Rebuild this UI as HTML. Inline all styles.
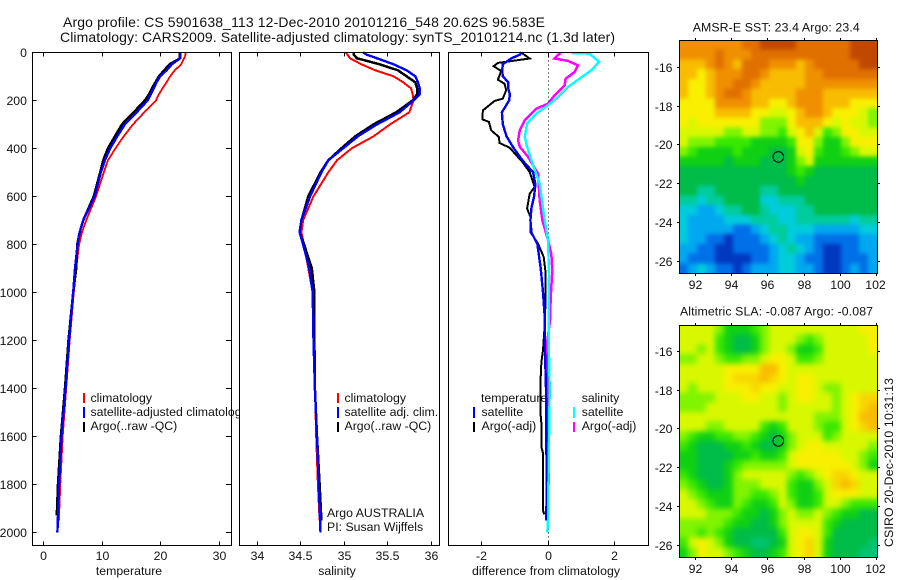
<!DOCTYPE html>
<html lang="en">
<head>
<meta charset="utf-8">
<title>Argo profile 5901638_113</title>
<style>
html,body{margin:0;padding:0;background:#fff;}
svg{display:block;font-family:"Liberation Sans",Arial,sans-serif;fill:#000;}
text{font-size:12.3px;fill:#111;}
.title{font-size:14px;}
.frame{fill:none;stroke:#000;stroke-width:1;shape-rendering:crispEdges;}
.tick{stroke:#000;stroke-width:1;shape-rendering:crispEdges;}
.mid{text-anchor:middle;}
.end{text-anchor:end;}
.line{fill:none;stroke-linejoin:miter;shape-rendering:crispEdges;}
.bar{shape-rendering:crispEdges;}
</style>
</head>
<body>
<svg id="figure" width="900" height="580" viewBox="0 0 900 580" xmlns="http://www.w3.org/2000/svg">
  <defs>
    <filter id="soft-sst" filterUnits="userSpaceOnUse" x="679" y="40" width="198" height="233" color-interpolation-filters="sRGB">
      <feGaussianBlur stdDeviation="2.2"/>
      <feComponentTransfer><feFuncA type="linear" slope="100"/></feComponentTransfer>
    </filter>
    <filter id="soft-sla" filterUnits="userSpaceOnUse" x="679" y="325" width="198" height="232" color-interpolation-filters="sRGB">
      <feGaussianBlur stdDeviation="3"/>
      <feComponentTransfer><feFuncA type="linear" slope="100"/></feComponentTransfer>
    </filter>
  </defs>
  <rect x="0" y="0" width="900" height="580" fill="#fff"/>
  <text class="title" x="63" y="27" textLength="482" lengthAdjust="spacing">Argo profile: CS 5901638_113 12-Dec-2010 20101216_548 20.62S 96.583E</text>
  <text class="title" x="60" y="42" textLength="555" lengthAdjust="spacing">Climatology: CARS2009. Satellite-adjusted climatology: synTS_20101214.nc (1.3d later)</text>

  <g id="panel-t">
    <text class="mid" x="129" y="575">temperature</text>
    <rect class="bar" x="83" y="393" width="2" height="10" fill="#f00"/>
    <rect class="bar" x="83" y="407" width="2" height="11" fill="#00f"/>
    <rect class="bar" x="83" y="422" width="2" height="10" fill="#000"/>
    <text x="90.5" y="402">climatology</text>
    <text x="90.5" y="416">satellite-adjusted climatology</text>
    <text x="90.5" y="430">Argo(..raw -QC)</text>
  </g>
  <g id="panel-s">
    <rect x="240" y="48" width="208" height="500" fill="#fff"/>
    <text class="mid" x="337" y="575">salinity</text>
    <rect class="bar" x="337" y="393" width="2" height="10" fill="#f00"/>
    <rect class="bar" x="337" y="407" width="2" height="11" fill="#00f"/>
    <rect class="bar" x="337" y="422" width="2" height="10" fill="#000"/>
    <text x="344.5" y="402">climatology</text>
    <text x="344.5" y="416">satellite adj. clim.</text>
    <text x="344.5" y="430">Argo(..raw -QC)</text>
    <text x="327" y="517">Argo AUSTRALIA</text>
    <text x="327" y="531">PI: Susan Wijffels</text>
  </g>
  <g id="panel-d">
    <rect x="441" y="48" width="209" height="500" fill="#fff"/>
    <text x="472" y="575" textLength="148" lengthAdjust="spacing">difference from climatology</text>
    <text x="481" y="402">temperature</text>
    <rect class="bar" x="473" y="407" width="2" height="11" fill="#00f"/>
    <rect class="bar" x="473" y="422" width="2" height="10" fill="#000"/>
    <text x="481.5" y="416">satellite</text>
    <text x="481.5" y="430">Argo(-adj)</text>
    <text x="581.7" y="402">salinity</text>
    <rect class="bar" x="573" y="407" width="2" height="11" fill="#0ff"/>
    <rect class="bar" x="573" y="422" width="2" height="10" fill="#f0f"/>
    <text x="581.7" y="416">satellite</text>
    <text x="581.7" y="430">Argo(-adj)</text>
  </g>
  <g id="map-sst">
    <text x="692.7" y="31.5" textLength="167" lengthAdjust="spacing">AMSR-E SST: 23.4  Argo: 23.4</text>
  </g>
  <g id="map-sla">
    <text x="680" y="315.5" textLength="193" lengthAdjust="spacing">Altimetric SLA: -0.087  Argo: -0.087</text>
  </g>
  <text transform="translate(893 547) rotate(-90)" textLength="169" lengthAdjust="spacing">CSIRO 20-Dec-2010 10:31:13</text>
</svg>
<script>
// ---- Depth levels for profiles (dbar) ----
const profileDepths = [0,10,25,50,75,100,125,150,175,200,250,300,350,400,450,500,600,700,750,800,900,1000,1200,1400,1600,1800];
const climEndDepth = [1950];
const satEndDepth = [2000];
const argoEndDepth = [1930];

// ---- Temperature profiles ----
const tempClim = [24.25,24.2,24,23.5,22.4,21.6,21,20.3,19.7,19.2,17.2,15.3,13.7,12.3,11,10.3,9,7.3,6.6,6.1,5.6,5.2,4.5,3.9,3.3,2.9,2.65];
const tempSat = [23.3,23.3,23.3,21.9,21,19.9,19.3,18.8,18.3,17.8,15.9,13.9,12.6,11.4,10.5,9.8,8.75,6.8,6.2,5.85,5.4,5.1,4.4,3.8,3.1,2.7,2.4];
const tempArgo = [23.2,23.2,23.3,21.5,20.6,19.7,19.1,18.5,18,17.3,15.4,13.4,12.2,11,10.2,9.7,8.6,6.8,6.2,5.8,5.6,5.1,4.3,3.7,3,2.5,2.3];

// ---- Salinity profiles ----
const salClim = [35.02,35.04,35.07,35.2,35.36,35.57,35.68,35.77,35.79,35.8,35.75,35.53,35.34,35.09,34.92,34.82,34.65,34.53,34.51,34.54,34.59,34.64,34.655,34.665,34.68,34.7,34.72];
const salSat = [35.22,35.26,35.38,35.57,35.72,35.82,35.85,35.87,35.87,35.8,35.64,35.38,35.16,34.99,34.82,34.74,34.61,34.51,34.49,34.53,34.6,34.64,34.65,34.665,34.69,34.71,34.73];
const salArgo = [35.11,35.11,35.15,35.41,35.62,35.72,35.82,35.84,35.84,35.79,35.6,35.34,35.13,34.97,34.82,34.73,34.59,34.51,34.49,34.54,34.63,34.66,34.66,34.665,34.69,34.72,34.74];

// ---- Difference profiles ----
const dTempSatDepths = [0,10,25,50,75,100,125,150,175,200,250,300,350,400,450,500,550,600,650,700,750,800,900,1000,1100,1250,1400,1600,1800,1950];
const dTempSat = [-0.79,-0.85,-1.1,-1.36,-1.38,-1.36,-1.2,-1.2,-1.15,-1.17,-1.39,-1.36,-1.25,-1.03,-0.77,-0.45,-0.38,-0.42,-0.5,-0.53,-0.5,-0.32,-0.22,-0.15,-0.1,-0.09,-0.06,-0.05,-0.04,-0.05];
const dTempArgoDepths = [3,26,44,58,78,114,131,158,193,203,242,279,290,325,353,378,397,457,499,561,589,651,686,749,797,853,922,1019,1135,1242,1290,1380,1500,1560,1650,1670,1910,1925];
const dTempArgo = [-0.79,-0.55,-1.51,-1.64,-1.41,-1.51,-1.31,-1.26,-1.36,-1.61,-1.96,-1.98,-1.78,-1.71,-1.48,-1.46,-1.16,-0.77,-0.55,-0.4,-0.55,-0.63,-0.53,-0.53,-0.3,-0.13,-0.07,-0.07,-0.1,-0.15,-0.2,-0.23,-0.23,-0.19,-0.19,-0.15,-0.15,-0.11];
const dSalSatDepths = [3,6,40,75,110,144,193,221,255,297,353,394,471,547,672,783,922,1019,1200,1400,1700,1950,2000];
const dSalSat = [0.7,1.25,1.54,1.3,0.95,0.6,0.25,0,-0.35,-0.63,-0.7,-0.63,-0.45,-0.25,-0.13,0,0.03,0.02,0.02,0.05,0.02,0,-0.02];
const dSalArgoDepths = [3,26,36,54,82,110,138,179,214,235,283,325,367,394,436,506,617,700,783,839,908,1019,1117,1214,1500,1742,1800];
const dSalArgo = [0.37,0.2,0.6,0.9,0.8,0.53,0.5,0.2,0,-0.35,-0.7,-0.85,-0.9,-0.85,-0.6,-0.3,-0.25,-0.17,0,0.1,0.13,0.08,0.06,-0.03,-0.03,0.02,0.02];

// ---- Tick labels ----
const depthTicks = [0,200,400,600,800,1000,1200,1400,1600,1800,2000];
const tempTicks = [0,10,20,30];
const salTicks = [34,34.5,35,35.5,36];
const diffTicks = [-2,0,2];
const lonTicks = [92,94,96,98,100,102];
const latTicks = [-16,-18,-20,-22,-24,-26];
const floatLon = [96.583];
const floatLat = [-20.62];

// ---- Map fields (colour-scale levels, 0=coldest/lowest, 14=warmest/highest), 22 columns, N to S ----
const sstRows = [
[12,12,12,12,12,12,12,13,13,14,14,14,14,13,13,13,13,13,13,14,14,14],
[12,12,12,12,13,12,12,12,13,13,13,13,13,13,13,13,13,13,13,14,14,14],
[11,11,11,12,13,12,11,13,13,13,12,12,12,11,12,13,13,13,13,13,14,14],
[11,11,10,11,12,12,12,13,13,12,11,11,11,11,12,12,13,13,13,13,13,13],
[11,10,10,11,12,12,13,13,12,11,11,11,11,11,12,12,12,12,12,12,12,12],
[11,10,10,11,12,13,13,12,11,11,11,11,11,12,12,12,11,11,11,11,11,11],
[10,10,10,10,12,12,12,12,11,11,10,10,11,12,12,12,11,11,11,10,10,10],
[10,10,10,10,11,11,11,11,10,10,9,9,10,11,12,12,11,10,10,10,9,8],
[10,9,10,10,10,10,10,10,10,8,8,8,10,11,11,11,10,9,10,9,9,8],
[9,9,9,9,9,8,8,9,9,8,8,7,9,10,11,9,7,8,10,10,9,9],
[9,8,8,8,7,7,7,7,6,6,6,6,7,10,10,8,6,6,8,10,10,10],
[8,7,6,6,6,6,7,6,6,6,5,5,6,9,10,7,6,6,7,8,9,9],
[6,6,6,6,6,5,6,6,6,5,5,5,6,8,9,6,6,6,6,6,6,6],
[5,5,5,5,5,5,5,5,5,5,5,5,6,7,6,5,5,5,5,5,5,5],
[5,5,5,5,5,5,5,5,5,5,5,5,5,6,5,5,5,5,5,5,5,5],
[5,5,4,4,5,5,5,5,5,4,4,5,5,5,5,5,5,5,5,5,5,5],
[4,4,3,4,4,5,5,5,5,3,3,4,4,4,5,5,5,5,5,5,5,5],
[3,3,2,2,3,4,4,5,5,4,3,3,3,4,4,5,5,5,5,5,5,5],
[3,2,2,2,2,3,3,3,4,4,4,3,3,4,4,4,4,4,4,3,4,4],
[3,2,2,2,2,2,1,1,2,3,4,4,3,3,3,2,2,2,2,2,3,3],
[3,2,2,1,1,0,1,1,1,2,3,4,3,2,2,1,1,1,1,1,2,2],
[2,2,1,1,0,0,1,1,1,1,2,3,4,3,2,1,0,0,1,1,2,2],
[2,1,1,1,0,0,0,0,1,1,2,3,3,2,1,1,0,0,1,1,1,2],
[1,2,3,2,1,1,0,1,2,2,2,3,3,2,2,1,0,0,1,2,1,2]
];
const slaRows = [
[9,9,9,9,8,6,6,6,7,8,9,9,9,9,9,9,9,9,9,9,10,10],
[9,9,9,9,7,6,5,5,6,8,9,9,9,8,7,8,9,9,9,9,9,10],
[9,9,8,9,7,6,5,5,6,8,9,9,8,6,6,7,9,9,9,9,9,10],
[8,8,9,9,8,7,7,8,8,9,10,10,9,7,7,8,9,9,9,9,9,9],
[9,9,9,9,9,10,10,10,10,11,11,10,9,9,9,9,9,9,9,9,9,9],
[9,9,9,9,9,10,10.5,10.5,10.5,11,10.5,10,9,10,10,9,9,9,9,9,9,9],
[9,8,9,9,9,10,10,10,10.5,10,10,9,9,10,10,9,8,8,9,9,9,9],
[8,8,8,8,9,9,9,10,10,9,9,8,9,10,10,9,9,8,9,10,10.5,10.5],
[8,8,8,9,9,9,9,9,9,9,9,8,9,9,9,9,9,8,9,10,10.5,11],
[9,9,9,9,9,9,9,9,9,9,9,9,9,9,9,8,8,8,9,10,11,11],
[9,9,9,8,8,9,9,9,9,7,6,7,9,9,9,8,7,7,9,10,10.5,11],
[8,7,6,6,7,7,8,8,7,6,5,6,8,9,9,9,7,8,9,9,9,9],
[7,6,5,5,5,6,6,7,6,5,5,6,8,9,10,10,9,9,9,9,9,8],
[6,6,5,5,5,5,6,6,7,6,6,7,9,10,10,10,10,10,9,9,8,7],
[6,6,5,5,5,6,7,8,8,8,8,8,9,10,10,10,10,10,10,9,8,6],
[7,6,5,5,5,6,8,9,9,9,9,9,8,7,8,9,10,10.5,10.5,10,9,9],
[8,7,6,5,5,6,8,8,8,9,9,9,7,6,6,8,9,10.5,11,10.5,9,9],
[9,8,7,6,6,6,8,8,7,7,8,9,7,6,6,7,9,10,10,10,9,9],
[9,9,8,7,6,6,8,7,6,6,7,9,8,6,6,7,9,9,8,7,7,7],
[9,9,9,8,8,8,7,6,6,5,6,8,9,8,8,9,8,7,6,6,5,5],
[8,8,8,8,8,7,6,6,5,5,6,8,9,9,9,9,7,6,5,5,5,5],
[8,8,7,8,7,6,5,5,5,5,5,7,9,10,10,9,7,5,5,5,5,5],
[7,9,10,9,8,6,5,5,4.5,4.5,5,6,9,10,10.5,9,6,5,5,5,5,4.5],
[6,8,10,9,9,8,7,6,5,5,6,7,9,10,10.5,9,6,5,5,5,4.5,4.5]
];

const levelColors = ['#0038c0','#0070e8','#00a8f0','#00ccdc','#00cc9c','#00bc48','#10d014','#38e800','#80f400','#d8f800','#f8f000','#f8bc00','#f09000','#e07000','#c04800'];

// ---- Axis functions ----
const NS = 'http://www.w3.org/2000/svg';
function yDepth(d){ return 52.3 + 0.24 * d; }
function xTemp(v){ return 43.3 + 5.87 * v; }
function xSal(v){ return 257 + 87 * (v - 34); }
function xDiff(v){ return 548 + 33.2 * v; }
function xLon(v){ return 695 + 18.17 * (v - 92); }
function yLatTop(v){ return 67.3 + 19.4 * (-16 - v); }
function yLatBottom(v){ return 351.3 + 19.4 * (-16 - v); }

function el(tag, attrs, parent){
  const e = document.createElementNS(NS, tag);
  for (const k in attrs) e.setAttribute(k, attrs[k]);
  parent.appendChild(e);
  return e;
}
function snap(v){ return Math.floor(v) + 0.5; }
function tickLine(parent, x1, y1, x2, y2){
  const t = el('line', {x1:x1, y1:y1, x2:x2, y2:y2, class:'tick'}, parent);
  
  
  return t;
}
function tickText(parent, x, y, label, cls){
  const t = el('text', {x:x, y:y, class:cls}, parent);
  t.textContent = label;
  
  
  return t;
}
function profile(parent, xs, depths, xf, color, width, name){
  const pts = depths.map((d, i) => xf(xs[i]).toFixed(1) + ',' + yDepth(d).toFixed(1)).join(' ');
  const p = el('polyline', {points:pts, class:'line', stroke:color, 'stroke-width':width}, parent);
  
  
  return p;
}
function frame(parent, x, y, w, h, name){
  const r = el('rect', {x:x, y:y, width:w, height:h, class:'frame'}, parent);
  
  
}

const panelT = document.getElementById('panel-t');
const panelS = document.getElementById('panel-s');
const panelD = document.getElementById('panel-d');
const top0 = 52.5, bot0 = 545.5;

// Temperature panel
const climD = profileDepths.concat(climEndDepth);
const satD = profileDepths.concat(satEndDepth);
const argoD = profileDepths.concat(argoEndDepth);
profile(panelT, tempClim, climD, xTemp, '#f00', 1.8, 'temperature-climatology-line');
profile(panelT, tempArgo, argoD, xTemp, '#000', 2.5, 'temperature-argo-line');
profile(panelT, tempSat, satD, xTemp, '#00f', 2.4, 'temperature-satellite-line');
frame(panelT, 32.5, top0, 199, bot0 - top0, 'temperature-plot-frame');
tempTicks.forEach(v => {
  const x = snap(xTemp(v));
  tickLine(panelT, x, top0, x, top0 + 4);
  tickLine(panelT, x, bot0, x, bot0 - 4);
  tickText(panelT, x, 560, String(v), 'mid');
});
depthTicks.forEach(v => {
  const y = snap(yDepth(v));
  tickLine(panelT, 32.5, y, 36.5, y);
  tickLine(panelT, 231.5, y, 226, y);
  tickText(panelT, 27, y + 4.5, String(v), 'end');
});

// Salinity panel
profile(panelS, salClim, climD, xSal, '#f00', 2, 'salinity-climatology-line');
profile(panelS, salArgo, climD, xSal, '#000', 2.5, 'salinity-argo-line');
profile(panelS, salSat, satD, xSal, '#00f', 2.4, 'salinity-satellite-line');
frame(panelS, 239.5, top0, 200, bot0 - top0, 'salinity-plot-frame');
salTicks.forEach(v => {
  const x = snap(xSal(v));
  tickLine(panelS, x, top0, x, top0 + 4);
  tickLine(panelS, x, bot0, x, bot0 - 4);
  tickText(panelS, x, 560, String(v), 'mid');
});

// Difference panel
const zeroLine = el('line', {x1:548.5, y1:top0, x2:548.5, y2:bot0, stroke:'#000', 'stroke-width':1, 'stroke-dasharray':'1 3', class:'bar'}, panelD);


profile(panelD, dSalArgo, dSalArgoDepths, xDiff, '#f0f', 2.5, 'salinity-argo-difference-line');
profile(panelD, dTempArgo, dTempArgoDepths, xDiff, '#000', 2, 'temperature-argo-difference-line');
profile(panelD, dTempSat, dTempSatDepths, xDiff, '#00f', 2.4, 'temperature-satellite-difference-line');
profile(panelD, dSalSat, dSalSatDepths, xDiff, '#0ff', 2.4, 'salinity-satellite-difference-line');
frame(panelD, 448.5, top0, 200, bot0 - top0, 'difference-plot-frame');
diffTicks.forEach(v => {
  const x = snap(xDiff(v));
  tickLine(panelD, x, top0, x, top0 + 4);
  tickLine(panelD, x, bot0, x, bot0 - 4);
  tickText(panelD, x, 560, String(v), 'mid');
});

// Maps
function levelColor(v){
  const i = Math.max(0, Math.min(levelColors.length - 1, Math.floor(v)));
  const j = Math.min(levelColors.length - 1, i + 1);
  const f = v - i;
  const a = parseInt(levelColors[i].slice(1), 16), b = parseInt(levelColors[j].slice(1), 16);
  const mix = s => Math.round(((a >> s) & 255) * (1 - f) + ((b >> s) & 255) * f);
  return 'rgb(' + mix(16) + ',' + mix(8) + ',' + mix(0) + ')';
}
function drawMap(parent, rows, yLat, top, bottom, labelBase, key){
  const left = 679, right = 877;
  const nr = rows.length, nc = rows[0].length;
  const cw = (right - left) / nc, ch = (bottom - top) / nr;
  const cellGroup = el('g', {filter:'url(#soft-' + key + ')'}, parent);
  
  
  rows.forEach((row, r) => {
    row.forEach((v, c) => {
      const cell = el('rect', {
        x: (left + c * cw).toFixed(2), y: (top + r * ch).toFixed(2),
        width: (cw + 0.4).toFixed(2), height: (ch + 0.4).toFixed(2),
        fill: levelColor(v), class: 'bar'
      }, cellGroup);
      
      
    });
  });
  frame(parent, left + 0.5, top + 0.5, right - left, bottom - top, key + '-map-frame');
  lonTicks.forEach(v => {
    const x = snap(xLon(v));
    tickLine(parent, x, top, x, top - 2);
    tickLine(parent, x, bottom + 1, x, bottom + 3);
    tickText(parent, x - (v === 102 ? 1 : 0), labelBase, String(v), 'mid');
  });
  latTicks.forEach(v => {
    const y = snap(yLat(v));
    tickLine(parent, left, y, left - 2, y);
    tickLine(parent, right + 1, y, right + 3, y);
    tickText(parent, 672.5, y + 4.5, String(v), 'end');
  });
  const marker = el('circle', {cx:xLon(floatLon[0]).toFixed(1), cy:yLat(floatLat[0]).toFixed(1), r:5.3, fill:'none', stroke:'#000', 'stroke-width':1}, parent);
  
  
}
drawMap(document.getElementById('map-sst'), sstRows, yLatTop, 40, 273, 289, 'sst');
drawMap(document.getElementById('map-sla'), slaRows, yLatBottom, 325, 557, 573, 'sla');
</script>
</body>
</html>
